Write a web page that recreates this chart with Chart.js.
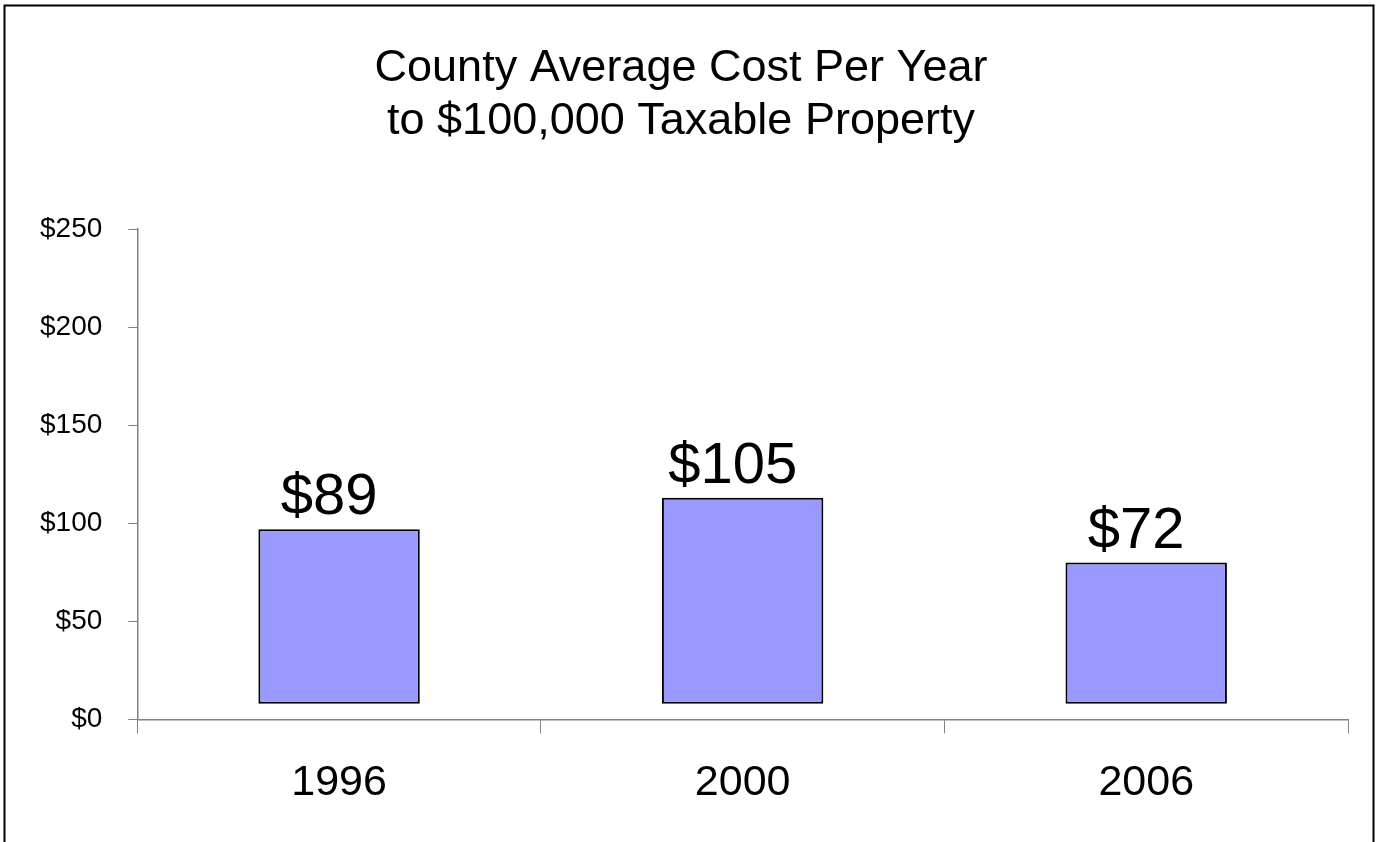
<!DOCTYPE html>
<html>
<head>
<meta charset="utf-8">
<script src="https://cdn.jsdelivr.net/npm/chart.js@4"></script>
<style>
  body { margin: 0; background: #fff; }
  #wrap { width: 1377px; height: 842px; position: relative; }
</style>
</head>
<body>
<div id="wrap"><canvas id="costChart"></canvas></div>
<script>
const years = ['1996', '2000', '2006'];
const costs = [89, 105, 72];
const yTicks = [0, 50, 100, 150, 200, 250];
const titleLines = ['County Average Cost Per Year', 'to $100,000 Taxable Property'];
// bars in the original float a little above the $0 line
const barBase = 8;

const FONT = 'Arial, "Liberation Sans", sans-serif';

// draws the "$89" style labels over each bar
const barLabels = {
  id: 'barLabels',
  afterDatasetsDraw(chart) {
    const ctx = chart.ctx;
    const meta = chart.getDatasetMeta(0);
    ctx.save();
    ctx.font = '58px ' + FONT;
    ctx.fillStyle = '#000';
    ctx.textAlign = 'center';
    ctx.textBaseline = 'alphabetic';
    meta.data.forEach((bar, i) => {
      ctx.fillText('$' + costs[i], bar.x - 10, bar.y - 15);
    });
    ctx.restore();
  }
};

// outer frame round the whole picture
const frame = {
  id: 'frame',
  afterDraw(chart) {
    const ctx = chart.ctx;
    ctx.save();
    ctx.strokeStyle = '#000';
    ctx.lineWidth = 2;
    ctx.strokeRect(4.5, 5.5, 1369, 1000);
    ctx.restore();
  }
};

const ctx = document.getElementById('costChart').getContext('2d');
new Chart(ctx, {
  type: 'bar',
  data: {
    labels: years,
    datasets: [{
      data: costs.map(v => [barBase, barBase + v]),
      backgroundColor: '#9999FF',
      borderColor: '#000',
      borderWidth: 2,
      borderSkipped: false,
      categoryPercentage: 1.0,
      barPercentage: 0.4
    }]
  },
  options: {
    responsive: true,
    maintainAspectRatio: false,
    animation: false,
    layout: { padding: { top: 0, left: 14, right: 29, bottom: 9 } },
    plugins: {
      legend: { display: false },
      tooltip: { enabled: false },
      title: {
        display: true,
        text: titleLines,
        color: '#000',
        font: { family: FONT, size: 45, weight: 'normal', lineHeight: 1.18 },
        padding: { top: 42, bottom: 81 }
      }
    },
    scales: {
      x: {
        offset: true,
        grid: { offset: true, drawOnChartArea: false, tickLength: 14, color: '#808080' },
        border: { color: '#808080', width: 1.5 },
        ticks: { color: '#000', padding: 24, font: { family: FONT, size: 43 } }
      },
      y: {
        min: 0,
        max: 250,
        afterBuildTicks(axis) { axis.ticks = yTicks.map(v => ({ value: v })); },
        grid: { drawOnChartArea: false, tickLength: 9, color: '#808080' },
        border: { color: '#808080', width: 1.5 },
        ticks: {
          color: '#000',
          padding: 26,
          font: { family: FONT, size: 28 },
          callback: v => '$' + v
        }
      }
    }
  },
  plugins: [barLabels, frame]
});
</script>
</body>
</html>
